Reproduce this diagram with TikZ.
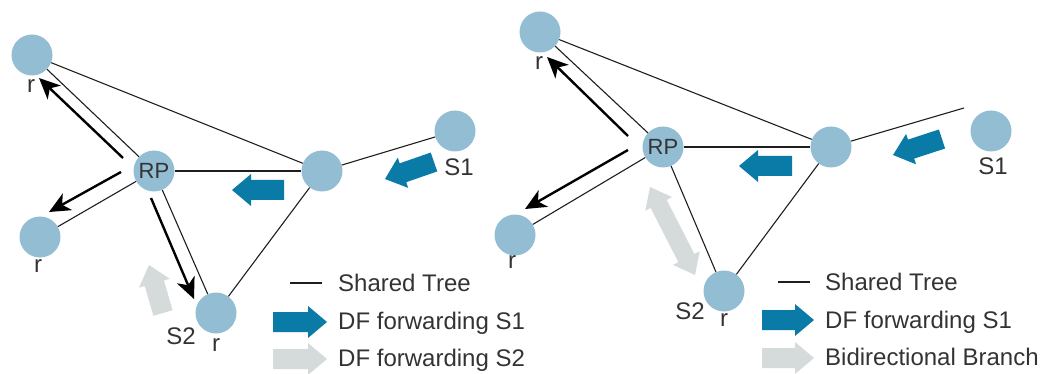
\documentclass[tikz,border=0pt]{standalone}
\usepackage{fontspec}
\setmainfont{Liberation Sans}
\usetikzlibrary{calc,arrows.meta}
\definecolor{nodeblue}{HTML}{93BDD3}
\definecolor{dfblue}{HTML}{0A7BA6}
\definecolor{bigray}{HTML}{D5DBDB}
\definecolor{txt}{HTML}{333333}
\definecolor{ln}{HTML}{1E1E1E}
\newcommand\fatarrow[3]{% colour, tail, tip
  \coordinate (fa-h) at ($(#3)!19pt!(#2)$);
  \fill[#1] ($(#2)!10pt!90:(#3)$) -- ($(fa-h)!10pt!90:(#3)$) -- ($(fa-h)!16pt!90:(#3)$) -- (#3)
    -- ($(fa-h)!16pt!-90:(#3)$) -- ($(fa-h)!10pt!-90:(#3)$) -- ($(#2)!10pt!-90:(#3)$) -- cycle;
}
\newcommand\dblfatarrow[3]{% colour, tip a, tip b
  \coordinate (fa-h1) at ($(#2)!19pt!(#3)$);
  \coordinate (fa-h2) at ($(#3)!19pt!(#2)$);
  \fill[#1] (#2) -- ($(fa-h1)!15pt!90:(#3)$) -- ($(fa-h1)!9pt!90:(#3)$) -- ($(fa-h2)!9pt!-90:(#2)$)
    -- ($(fa-h2)!15pt!-90:(#2)$) -- (#3) -- ($(fa-h2)!15pt!90:(#2)$) -- ($(fa-h2)!9pt!90:(#2)$)
    -- ($(fa-h1)!9pt!-90:(#3)$) -- ($(fa-h1)!15pt!-90:(#3)$) -- cycle;
}
\begin{document}
\begin{tikzpicture}[x=1pt,y=-1pt,
  rnode/.style={circle,fill=nodeblue,minimum size=41pt,inner sep=0pt,text=txt,font=\fontsize{22}{24}\selectfont},
  lbl/.style={text=txt,inner sep=0pt,font=\fontsize{24}{26}\selectfont},
  legtext/.style={text=txt,inner sep=0pt,anchor=base west,font=\fontsize{24}{26}\selectfont},
  tree/.style={draw=ln,line width=1.1pt},
  fwd/.style={draw=black,line width=2.4pt,-{Stealth[length=21pt,width=19pt,inset=6pt]}}]
\useasboundingbox (0,0) rectangle (1049,374);

% ---------------- left diagram ----------------
\node[rnode] (L1) at (32,55) {};
\node[rnode] (LRP) at (154,171) {RP};
\node[rnode] (LM) at (322,171) {};
\node[rnode] (L2) at (40,237) {};
\node[rnode] (L3) at (216,313) {};
\node[rnode] (LS1) at (455,131) {};

\draw[tree] (L1) -- (LM);
\draw[tree] (L1) -- (LRP);
\draw[tree] (LRP) -- (LM);
\draw[tree] (LRP) -- (L2);
\draw[tree] (LRP) -- (L3);
\draw[tree] (LM) -- (L3);
\draw[tree] (LM) -- (LS1);

\node[lbl] (lr1) at (31,86) {r};
\node[lbl] (lr2) at (38,266) {r};
\node[lbl] (ls2) at (181,336) {S2};
\node[lbl] (lr3) at (216,345) {r};
\node[lbl] (ls1) at (459,167) {S1};

\coordinate (la1s) at (123,158); \coordinate (la1e) at (39,78);
\coordinate (la2s) at (121,172); \coordinate (la2e) at (49,212);
\coordinate (la3s) at (151,198); \coordinate (la3e) at (194,299);
\draw[fwd] (la1s) -- (la1e);
\draw[fwd] (la2s) -- (la2e);
\draw[fwd] (la3s) -- (la3e);

\coordinate (lb1t) at (284,190); \coordinate (lb1h) at (232,190);
\fatarrow{dfblue}{lb1t}{lb1h}
\coordinate (lb2t) at (434,162); \coordinate (lb2h) at (385,179);
\fatarrow{dfblue}{lb2t}{lb2h}
\coordinate (lg1t) at (163,313); \coordinate (lg1h) at (149,265);
\fatarrow{bigray}{lg1t}{lg1h}

% legend left
\coordinate (ll1) at (290,283); \coordinate (ll2) at (322,283);
\draw[tree] (ll1) -- (ll2);
\node[legtext] (lt1) at (338,291) {Shared Tree};
\coordinate (llbt) at (273,322); \coordinate (llbh) at (327,322);
\fatarrow{dfblue}{llbt}{llbh}
\node[legtext] (lt2) at (338,329.5) {DF forwarding S1};
\coordinate (llgt) at (273,359); \coordinate (llgh) at (327,359);
\fatarrow{bigray}{llgt}{llgh}
\node[legtext] (lt3) at (338,366.5) {DF forwarding S2};

% ---------------- right diagram ----------------
\node[rnode] (R1) at (540,32) {};
\node[rnode] (RRP) at (663,147) {RP};
\node[rnode] (RM) at (831,147) {};
\node[rnode] (R2) at (515,235) {};
\node[rnode] (R3) at (724,291) {};
\node[rnode] (RS1) at (991,131) {};
\coordinate (Rend) at (964,108);

\draw[tree] (R1) -- (RM);
\draw[tree] (R1) -- (RRP);
\draw[tree] (RRP) -- (RM);
\draw[tree] (RRP) -- (R2);
\draw[tree] (RRP) -- (R3);
\draw[tree] (RM) -- (R3);
\draw[tree] (RM) -- (Rend);

\node[lbl] (rr1) at (539,63) {r};
\node[lbl] (rr2) at (512,262) {r};
\node[lbl] (rs2) at (690,311) {S2};
\node[lbl] (rr3) at (724,320) {r};
\node[lbl] (rs1) at (993,166) {S1};

\coordinate (ra1s) at (628,136); \coordinate (ra1e) at (547,57);
\coordinate (ra2s) at (628,150); \coordinate (ra2e) at (525,209);
\draw[fwd] (ra1s) -- (ra1e);
\draw[fwd] (ra2s) -- (ra2e);

\coordinate (rb1t) at (792,166); \coordinate (rb1h) at (739,166);
\fatarrow{dfblue}{rb1t}{rb1h}
\coordinate (rb2t) at (942,139); \coordinate (rb2h) at (893,155);
\fatarrow{dfblue}{rb2t}{rb2h}
\coordinate (rga) at (650,187); \coordinate (rgb) at (695,275);
\dblfatarrow{bigray}{rga}{rgb}

% legend right
\coordinate (rl1) at (778,282); \coordinate (rl2) at (810,282);
\draw[tree] (rl1) -- (rl2);
\node[legtext] (rt1) at (825,290) {Shared Tree};
\coordinate (rlbt) at (762,320); \coordinate (rlbh) at (814,320);
\fatarrow{dfblue}{rlbt}{rlbh}
\node[legtext] (rt2) at (825,328.5) {DF forwarding S1};
\coordinate (rlgt) at (762,358); \coordinate (rlgh) at (814,358);
\fatarrow{bigray}{rlgt}{rlgh}
\node[legtext] (rt3) at (825,365.5) {Bidirectional Branch};
\end{tikzpicture}
\end{document}
